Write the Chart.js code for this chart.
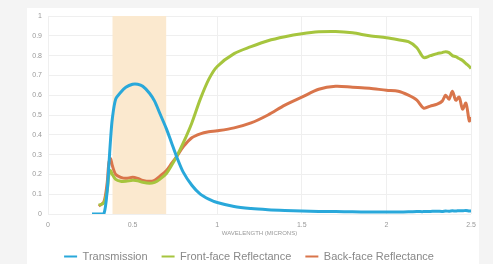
<!DOCTYPE html>
<html>
<head>
<meta charset="utf-8">
<script src="https://cdn.jsdelivr.net/npm/chart.js@4.4.1/dist/chart.umd.min.js"></script>
<style>
html,body{margin:0;padding:0;background:#f4f4f4;}
#wrap{width:493px;height:264px;position:relative;}
</style>
</head>
<body>
<div id="wrap"><canvas id="c" width="493" height="264"></canvas></div>
<script>
// Wavelength (microns)
const wavelengths = [0.26,0.30,0.33,0.35,0.36,0.37,0.38,0.40,0.43,0.46,0.50,0.53,0.56,0.60,0.63,0.66,0.70,0.73,0.76,0.80,0.85,0.90,0.95,1.00,1.10,1.20,1.30,1.40,1.50,1.60,1.70,1.80,1.90,2.00,2.07,2.13,2.18,2.22,2.26,2.30,2.33,2.35,2.37,2.39,2.41,2.43,2.45,2.47,2.49,2.50];
const transmission = [0,0,0,0.12,0.25,0.38,0.48,0.58,0.615,0.64,0.655,0.655,0.645,0.61,0.57,0.51,0.43,0.36,0.29,0.21,0.145,0.10,0.075,0.058,0.038,0.028,0.022,0.018,0.015,0.013,0.012,0.011,0.010,0.010,0.010,0.011,0.012,0.012,0.013,0.014,0.013,0.015,0.014,0.016,0.015,0.017,0.016,0.018,0.015,0.016];
const frontReflectance = [null,0.045,0.055,0.12,0.20,0.22,0.20,0.175,0.165,0.165,0.17,0.168,0.16,0.155,0.16,0.175,0.205,0.245,0.29,0.36,0.46,0.58,0.68,0.745,0.81,0.845,0.875,0.895,0.91,0.92,0.922,0.915,0.90,0.89,0.88,0.87,0.84,0.79,0.80,0.81,0.815,0.82,0.815,0.80,0.795,0.785,0.775,0.76,0.745,0.735];
const backReflectance = [null,0.04,0.06,0.16,0.26,0.28,0.245,0.20,0.185,0.18,0.185,0.18,0.17,0.165,0.17,0.19,0.22,0.255,0.29,0.34,0.385,0.405,0.415,0.42,0.435,0.46,0.50,0.55,0.59,0.63,0.645,0.64,0.635,0.625,0.62,0.60,0.575,0.535,0.545,0.555,0.57,0.60,0.58,0.62,0.575,0.59,0.53,0.56,0.47,0.49];
// Visible band shading (microns)
const visibleBand = [0.38, 0.70];
const seriesNames = ["Transmission","Front-face Reflectance","Back-face Reflectance"];
const xTicks = [0,0.5,1,1.5,2,2.5];
const axisTitle = "WAVELENGTH (MICRONS)";

const colors = ["#29a8da","#a6c53e","#d9754b"];
const FONT = 'Liberation Sans, Arial, sans-serif';
function pts(vals){ return wavelengths.map((w,i)=>({x:w,y:vals[i]})).filter(p=>p.y!==null); }
const fmt = v => String(+(+v).toFixed(1));

const panelBg = {
  id:'panelBg',
  afterInit(chart){
    const lg = chart.legend;
    if(lg){
      const orig = lg.fit.bind(lg);
      lg.fit = function(){ orig(); this.height = 27; this.minSize && (this.minSize.height = 27); };
    }
  },
  beforeDraw(chart){
    const ctx = chart.ctx;
    ctx.save();
    ctx.fillStyle = '#f4f4f4';
    ctx.fillRect(0,0,chart.width,chart.height);
    ctx.fillStyle = '#ffffff';
    ctx.fillRect(27,8,452,256);
    ctx.restore();
  }
};

new Chart(document.getElementById('c'), {
  type:'line',
  data:{
    datasets:[
      {label:seriesNames[0], data:pts(transmission), borderColor:colors[0], backgroundColor:colors[0], borderWidth:3, pointRadius:0, tension:0.3, order:1},
      {label:seriesNames[1], data:pts(frontReflectance), borderColor:colors[1], backgroundColor:colors[1], borderWidth:3, pointRadius:0, tension:0.3, order:2},
      {label:seriesNames[2], data:pts(backReflectance), borderColor:colors[2], backgroundColor:colors[2], borderWidth:3, pointRadius:0, tension:0.3, order:3},
      {label:'visible', data:visibleBand.map(x=>({x:x,y:1})), borderWidth:0, pointRadius:0, fill:'origin', backgroundColor:'#fbe9cf', order:10}
    ]
  },
  options:{
    responsive:false,
    animation:false,
    layout:{padding:{left:27,right:22,top:16,bottom:0}},
    plugins:{
      tooltip:{enabled:false},
      legend:{
        position:'bottom',
        labels:{
          font:{family:FONT, size:11},
          color:'#888',
          boxWidth:13, boxHeight:2, padding:14,
          filter:(item)=>item.text!=='visible',
          generateLabels(chart){
            return Chart.defaults.plugins.legend.labels.generateLabels(chart).map(l=>Object.assign(l,{lineWidth:0}));
          }
        }
      }
    },
    scales:{
      x:{
        type:'linear', min:0, max:2.5,
        afterBuildTicks(s){ s.ticks = xTicks.map(v=>({value:v})); },
        grid:{color:'#efefef', drawTicks:false},
        border:{display:false},
        ticks:{font:{family:FONT, size:7}, color:'#999', padding:7, callback:fmt},
        title:{display:true, text:axisTitle, font:{family:FONT, size:6}, color:'#999', padding:{top:1,bottom:0}},
        afterFit(s){ s.height = 23; }
      },
      y:{
        min:0, max:1,
        ticks:{stepSize:0.1, font:{family:FONT, size:7}, color:'#999', padding:6, callback:fmt},
        grid:{color:'#efefef', drawTicks:false},
        border:{display:false},
        afterFit(s){ s.width = 21; }
      }
    }
  },
  plugins:[panelBg]
});
</script>
</body>
</html>
